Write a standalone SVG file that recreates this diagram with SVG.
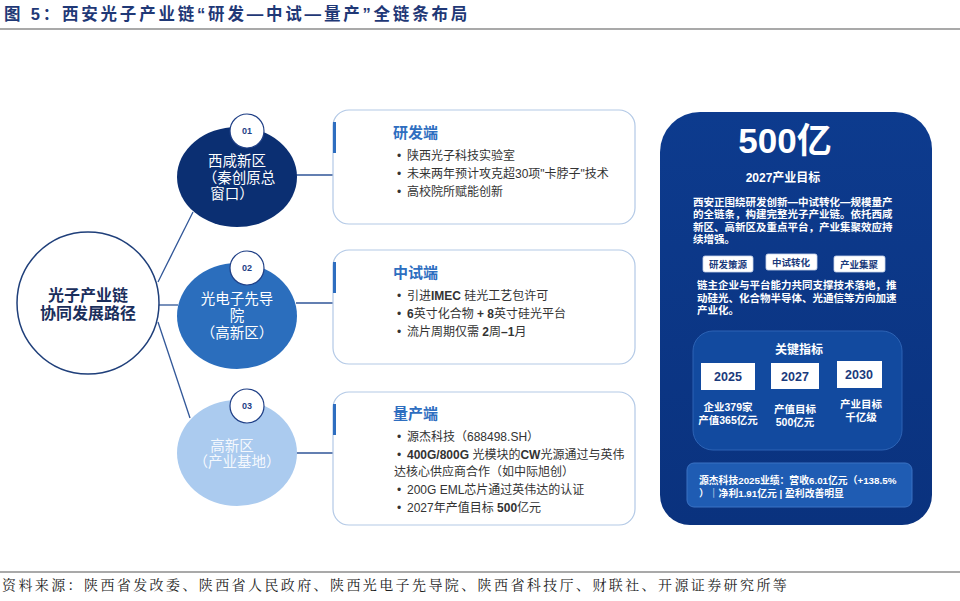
<svg xmlns="http://www.w3.org/2000/svg" width="960" height="601" viewBox="0 0 960 601">
<defs>
<style>
text{font-family:"Liberation Sans","Noto Sans CJK SC",sans-serif}
.title{font-size:16.5px;font-weight:bold;fill:#1f3876;letter-spacing:2.8px}
.foot{font-family:"Liberation Serif","Noto Serif CJK SC","Noto Sans CJK SC",serif;font-size:14px;fill:#222;letter-spacing:2.4px}
.conn{stroke:#2f5597;stroke-width:1.3;fill:none}
.badge{fill:#fff;stroke:#1f3f86;stroke-width:1.2}
.badgeT{font-size:9px;font-weight:bold;fill:#1f3f86;text-anchor:middle}
.nodeT{font-size:14.5px;fill:#fff;text-anchor:middle}
.card{fill:#fff;stroke:#b3c9e6;stroke-width:1.2}
.bar{fill:#2e6ec0}
.cardH{font-size:15px;font-weight:bold;fill:#2e6ec0}
.li{font-size:12px;fill:#333}
.w{fill:#fff;font-weight:bold}
.tag{fill:#fff;stroke:#c9d6ec;stroke-width:0.8}
.tagT{font-size:9.5px;font-weight:bold;fill:#1a3a7c;text-anchor:middle}
.yr{fill:#fff}
.yrT{font-size:12.5px;font-weight:bold;fill:#1a3a7c;text-anchor:middle}
.mT{font-size:10.5px;font-weight:bold;fill:#fff;text-anchor:middle}
</style>
<linearGradient id="pg" x1="0" y1="0" x2="0" y2="1">
<stop offset="0" stop-color="#0d3b8e"/>
<stop offset="1" stop-color="#0a327e"/>
</linearGradient>
</defs>
<rect width="960" height="601" fill="#fff"/>
<text class="title" x="4" y="20">图 5：西安光子产业链“研发—中试—量产”全链条布局</text>
<line x1="0" y1="29" x2="960" y2="29" stroke="#8c8c8c" stroke-width="1.5"/>

<g id="connectors">
<line class="conn" x1="158" y1="282" x2="193" y2="212"/>
<line class="conn" x1="159" y1="305" x2="178" y2="305"/>
<line class="conn" x1="158" y1="322" x2="190" y2="418"/>
<line class="conn" x1="296" y1="175" x2="333" y2="175"/>
<line class="conn" x1="296" y1="303" x2="333" y2="303"/>
<line class="conn" x1="296" y1="453" x2="333" y2="453"/>
</g>

<g id="root">
<circle cx="88" cy="303" r="71" fill="#fff" stroke="#1f3f7a" stroke-width="1.5"/>
<text x="88" y="301" font-size="16" font-weight="bold" fill="#1a2e5c" text-anchor="middle">光子产业链</text>
<text x="88" y="319" font-size="16" font-weight="bold" fill="#1a2e5c" text-anchor="middle">协同发展路径</text>
</g>

<g id="node1">
<ellipse cx="237" cy="177" rx="60" ry="50" fill="#0b2f72"/>
<circle class="badge" cx="247" cy="131" r="17"/>
<text class="badgeT" x="247" y="134">01</text>
<text class="nodeT" x="237" y="166">西咸新区</text>
<text class="nodeT" x="239" y="183">（秦创原总</text>
<text class="nodeT" x="232" y="199">窗口）</text>
</g>

<g id="node2">
<ellipse cx="237" cy="316" rx="60" ry="53" fill="#2b6ebd"/>
<circle class="badge" cx="247" cy="268" r="17"/>
<text class="badgeT" x="247" y="271">02</text>
<text class="nodeT" x="237" y="304">光电子先导</text>
<text class="nodeT" x="237" y="321">院</text>
<text class="nodeT" x="237" y="338">（高新区）</text>
</g>

<g id="node3">
<ellipse cx="237" cy="453" rx="60" ry="53" fill="#abcbef"/>
<circle class="badge" cx="247" cy="406" r="17"/>
<text class="badgeT" x="247" y="409">03</text>
<text class="nodeT" x="232" y="451" fill-opacity="0.9">高新区</text>
<text class="nodeT" x="237" y="467" fill-opacity="0.9">（产业基地）</text>
</g>

<g id="card1">
<rect class="card" x="333" y="110" width="302" height="114" rx="16"/>
<rect class="bar" x="333" y="122" width="3" height="31"/>
<text class="cardH" x="393" y="138">研发端</text>
<text class="li" x="397" y="160">•</text><text class="li" x="407" y="160">陕西光子科技实验室</text>
<text class="li" x="397" y="178">•</text><text class="li" x="407" y="178">未来两年预计攻克超30项"卡脖子"技术</text>
<text class="li" x="397" y="196">•</text><text class="li" x="407" y="196">高校院所赋能创新</text>
</g>

<g id="card2">
<rect class="card" x="333" y="250" width="302" height="114" rx="16"/>
<rect class="bar" x="333" y="262" width="3" height="31"/>
<text class="cardH" x="393" y="278">中试端</text>
<text class="li" x="397" y="300">•</text><text class="li" x="407" y="300">引进<tspan font-weight="bold">IMEC</tspan> 硅光工艺包许可</text>
<text class="li" x="397" y="318">•</text><text class="li" x="407" y="318"><tspan font-weight="bold">6</tspan>英寸化合物 <tspan font-weight="bold">+ 8</tspan>英寸硅光平台</text>
<text class="li" x="397" y="336">•</text><text class="li" x="407" y="336">流片周期仅需 <tspan font-weight="bold">2</tspan>周<tspan font-weight="bold">–1</tspan>月</text>
</g>

<g id="card3">
<rect class="card" x="333" y="392" width="302" height="133" rx="16"/>
<rect class="bar" x="333" y="404" width="3" height="31"/>
<text class="cardH" x="393" y="419">量产端</text>
<text class="li" x="397" y="441">•</text><text class="li" x="407" y="441">源杰科技（688498.SH）</text>
<text class="li" x="397" y="459">•</text><text class="li" x="407" y="459"><tspan font-weight="bold">400G/800G</tspan> 光模块的<tspan font-weight="bold">CW</tspan>光源通过与英伟</text>
<text class="li" x="394" y="476">达核心供应商合作（如中际旭创）</text>
<text class="li" x="397" y="494">•</text><text class="li" x="407" y="494">200G EML芯片通过英伟达的认证</text>
<text class="li" x="397" y="512">•</text><text class="li" x="407" y="512">2027年产值目标 <tspan font-weight="bold">500</tspan>亿元</text>
</g>

<g id="panel">
<path d="M700,112 H895 A37,37 0 0 1 932,149 V495 A30,30 0 0 1 902,525 H690 A30,30 0 0 1 660,495 V152 A40,40 0 0 1 700,112 Z" fill="url(#pg)"/>
<text x="785" y="153" font-size="35" font-weight="bold" fill="#fff" text-anchor="middle">500亿</text>
<text x="783" y="182" font-size="12" font-weight="bold" fill="#fff" text-anchor="middle">2027产业目标</text>
<text class="w" font-size="10.5" x="693" y="206">西安正围绕研发创新—中试转化—规模量产</text>
<text class="w" font-size="10.5" x="693" y="218">的全链条，构建完整光子产业链。依托西咸</text>
<text class="w" font-size="10.5" x="693" y="231">新区、高新区及重点平台，产业集聚效应持</text>
<text class="w" font-size="10.5" x="693" y="243">续增强。</text>
<rect class="tag" x="703" y="256" width="50" height="16" rx="2"/>
<text class="tagT" x="728" y="268">研发策源</text>
<rect class="tag" x="766" y="254" width="51" height="16" rx="2"/>
<text class="tagT" x="791" y="266">中试转化</text>
<rect class="tag" x="834" y="256" width="51" height="16" rx="2"/>
<text class="tagT" x="859" y="268">产业集聚</text>
<text class="w" font-size="10.5" x="697" y="289">链主企业与平台能力共同支撑技术落地，推</text>
<text class="w" font-size="10.5" x="697" y="302">动硅光、化合物半导体、光通信等方向加速</text>
<text class="w" font-size="10.5" x="697" y="314">产业化。</text>
</g>

<g id="metrics">
<rect x="693" y="331" width="209" height="119" rx="20" fill="#124a9f" stroke="#2d63b5" stroke-width="1"/>
<text x="799" y="354" font-size="12" font-weight="bold" fill="#fff" text-anchor="middle">关键指标</text>
<rect class="yr" x="701" y="363" width="54" height="27"/>
<text class="yrT" x="728" y="381">2025</text>
<rect class="yr" x="771" y="363" width="48" height="26"/>
<text class="yrT" x="795" y="381">2027</text>
<rect class="yr" x="837" y="361" width="45" height="27"/>
<text class="yrT" x="859" y="379">2030</text>
<text class="mT" x="728" y="411">企业379家</text>
<text class="mT" x="728" y="424">产值365亿元</text>
<text class="mT" x="795" y="413">产值目标</text>
<text class="mT" x="795" y="426">500亿元</text>
<text class="mT" x="861" y="408">产业目标</text>
<text class="mT" x="861" y="421">千亿级</text>
</g>

<g id="perf">
<rect x="687" y="463" width="225" height="44" rx="7" fill="#1f5cb3" stroke="#3a72c4" stroke-width="1"/>
<text class="w" font-size="9.8" x="699" y="484">源杰科技2025业绩：营收6.01亿元（+138.5%</text>
<text class="w" font-size="9.8" x="699" y="497">）｜净利1.91亿元 | 盈利改善明显</text>
</g>

<line x1="0" y1="572" x2="960" y2="572" stroke="#8c8c8c" stroke-width="1.5"/>
<text class="foot" x="2" y="590">资料来源：陕西省发改委、陕西省人民政府、陕西光电子先导院、陕西省科技厅、财联社、开源证券研究所等</text>
</svg>
